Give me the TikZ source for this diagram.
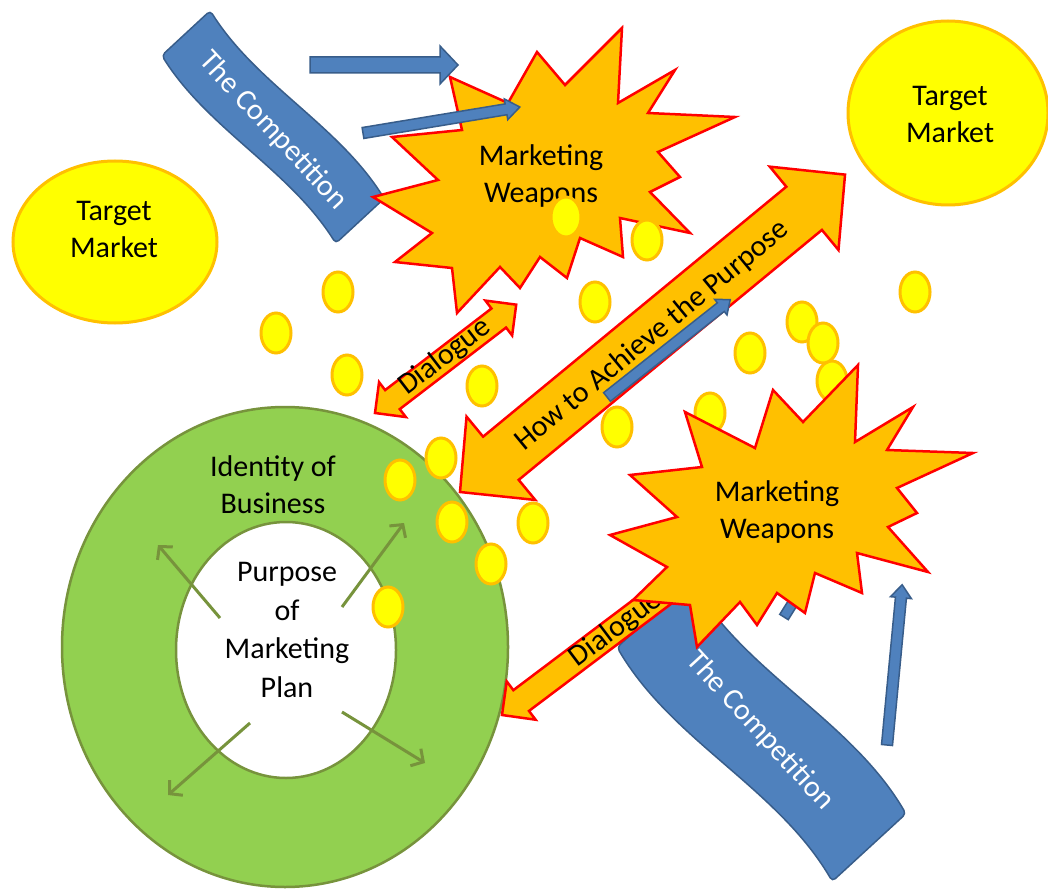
\documentclass[tikz,border=0pt]{standalone}
\usepackage{fontspec}
\setmainfont{Carlito}
\usetikzlibrary{arrows.meta}

\definecolor{ringgreen}{HTML}{92D050}
\definecolor{ringline}{HTML}{77933C}
\definecolor{coinfill}{HTML}{FFFF00}
\definecolor{coinline}{HTML}{FFC000}
\definecolor{burstfill}{HTML}{FFC000}
\definecolor{bluefill}{HTML}{4F81BD}
\definecolor{blueline}{HTML}{385D8A}

\tikzset{
  coin/.style={fill=coinfill, draw=coinline, line width=3pt},
  market/.style={fill=coinfill, draw=coinline, line width=3pt},
  orangearrow/.style={fill=burstfill, draw=red, line width=2.5pt, line join=miter},
  burstshape/.style={fill=burstfill, draw=red, line width=2.5pt, line join=miter},
  bluearrow/.style={fill=bluefill, draw=blueline, line width=1.5pt, line join=miter},
  banner/.style={fill=bluefill, draw=blueline, line width=1.5pt, rounded corners=4pt},
  txt/.style={font=\fontsize{30}{37}\selectfont, align=center, inner sep=0pt},
  growarrow/.style={draw=ringline, line width=3pt,
    -{Straight Barb[length=9pt,width=20pt]}}
}

\begin{document}
\begin{tikzpicture}[x=1pt,y=-1pt]
\useasboundingbox (0,0) rectangle (1048,890);
\fill[white] (0,0) rectangle (1048,890);

% ---------- identity ring with the purpose in its centre ----------
\filldraw[fill=ringgreen, draw=ringline, line width=2.5pt, even odd rule]
  (285,647) ellipse [x radius=223pt, y radius=240pt]
  (286,650) ellipse [x radius=110pt, y radius=128pt];
\node[txt] (identity) at (273,485) {Identity of\\Business};
\node[txt, font=\fontsize{30}{38.5}\selectfont] (purpose) at (287,630) {Purpose\\of\\Marketing\\Plan};
\coordinate (g1) at (158,545);
\coordinate (g2) at (404,523);
\coordinate (g3) at (168,795);
\coordinate (g4) at (425,763);
\draw[growarrow] (220,618) -- (g1);
\draw[growarrow] (342,607) -- (g2);
\draw[growarrow] (250,723) -- (g3);
\draw[growarrow] (342,712) -- (g4);

% ---------- target markets ----------
\filldraw[market] (115,242) ellipse [x radius=102pt, y radius=81pt];
\node[txt] (marketL) at (114,229) {Target\\Market};
\filldraw[market] (948,113) ellipse [x radius=100pt, y radius=92pt];
\node[txt] (marketR) at (950,114) {Target\\Market};

% ---------- competition banners ----------
\begin{scope}[shift={(273,127)}, rotate=-47.2]
  \filldraw[banner] (-128,-33) .. controls (-43,-17) and (43,-49) .. (128,-33)
    -- (128,33) .. controls (43,17) and (-43,49) .. (-128,33) -- cycle;
\end{scope}
\node[txt, text=white, rotate=-47.2] (compU) at (273,131) {The Competition};

\begin{scope}[shift={(761.5,730.5)}, rotate=-47.4]
  \filldraw[banner] (-159,-50) .. controls (-53,-27) and (53,-73) .. (159,-50)
    -- (159,50) .. controls (53,27) and (-53,73) .. (-159,50) -- cycle;
\end{scope}
\node[txt, text=white, rotate=-47.4] (compL) at (760,731) {The Competition};

% ---------- dialogue arrows ----------
\begin{scope}[shift={(375,413)}, rotate=37.5]
  \filldraw[orangearrow] (0,0) -- (22,-22) -- (22,-12) -- (156,-12) -- (156,-22)
    -- (178,0) -- (156,22) -- (156,12) -- (22,12) -- (22,22) -- cycle;
\end{scope}
\node[txt, rotate=37.5] (dialogueU) at (445,357) {Dialogue};

\begin{scope}[shift={(502,715)}, rotate=37]
  \filldraw[orangearrow] (0,0) -- (24,-24) -- (24,-13) -- (205,-13)
    -- (205,13) -- (24,13) -- (24,24) -- cycle;
\end{scope}
\node[txt, rotate=37] (dialogueL) at (616,629) {Dialogue};

% ---------- how to achieve the purpose ----------
\begin{scope}[shift={(460,492)}, rotate=39.5]
  \filldraw[orangearrow] (0,0) -- (53,-54) -- (53,-28) -- (446,-28) -- (446,-54)
    -- (499,0) -- (446,54) -- (446,28) -- (53,28) -- (53,54) -- cycle;
\end{scope}
\node[txt, rotate=39.5] (achieve) at (652,336) {How to Achieve the Purpose};

% blue arrow partly hidden by the lower burst
\begin{scope}[shift={(784,617)}, rotate=58]
  \filldraw[bluearrow] (0,-5) -- (40,-5) -- (40,5) -- (0,5) -- cycle;
\end{scope}

% coins lying behind the lower burst
\filldraw[coin] (710,413) ellipse [x radius=15pt, y radius=20pt];
\filldraw[coin] (832,381) ellipse [x radius=15pt, y radius=20pt];

% ---------- marketing weapons bursts ----------
\filldraw[burstshape] (450,77) -- (508,103) -- (537,52) -- (565,85) -- (622,28)
  -- (618,103) -- (675,70) -- (648,113) -- (735,117) -- (658,152) -- (680,177)
  -- (650,192) -- (690,233) -- (620,218) -- (623,257) -- (580,238) -- (567,278)
  -- (540,257) -- (520,288) -- (500,267) -- (457,313) -- (452,268) -- (395,262)
  -- (432,233) -- (373,197) -- (438,180) -- (392,137) -- (462,130) -- cycle;
\node[txt] (weaponsU) at (541,176) {Marketing\\Weapons};

\filldraw[burstshape] (858,365) -- (855,442) -- (913,407) -- (887,450) -- (973,453)
  -- (897,488) -- (917,513) -- (888,527) -- (928,572) -- (857,553) -- (862,593)
  -- (815,573) -- (805,613) -- (777,593) -- (757,625) -- (740,602) -- (697,647)
  -- (690,605) -- (633,600) -- (667,567) -- (610,535) -- (677,517) -- (630,475)
  -- (702,467) -- (685,412) -- (755,448) -- (773,390) -- (803,422) -- cycle;
\node[txt] (weaponsL) at (777,512) {Marketing\\Weapons};

% ---------- scattered coins ----------
\foreach \cx/\cy in {338/292, 276/333, 347/375, 482/386, 566/217, 647/240,
    595/302, 441/458, 400/480, 452/522, 491/564, 388/607, 533/523,
    617/427, 750/353, 802/322, 823/343, 915/292}
  \filldraw[coin] (\cx,\cy) ellipse [x radius=15pt, y radius=20pt];

% ---------- blue arrows ----------
\filldraw[bluearrow] (310,57) -- (440,57) -- (440,46) -- (458,65) -- (440,84)
  -- (440,73) -- (310,73) -- cycle;
\begin{scope}[shift={(363,133)}, rotate=9.4]
  \filldraw[bluearrow] (0,-5.5) -- (145,-5.5) -- (145,-10.5) -- (159,0)
    -- (145,10.5) -- (145,5.5) -- (0,5.5) -- cycle;
\end{scope}
\begin{scope}[shift={(607,397)}, rotate=38.3]
  \filldraw[bluearrow] (0,-5.5) -- (145,-5.5) -- (145,-10) -- (157,0)
    -- (145,10) -- (145,5.5) -- (0,5.5) -- cycle;
\end{scope}
\begin{scope}[shift={(887,745)}, rotate=84.6]
  \filldraw[bluearrow] (0,-5.5) -- (148,-5.5) -- (148,-10.5) -- (161,0)
    -- (148,10.5) -- (148,5.5) -- (0,5.5) -- cycle;
\end{scope}
\end{tikzpicture}
\end{document}
